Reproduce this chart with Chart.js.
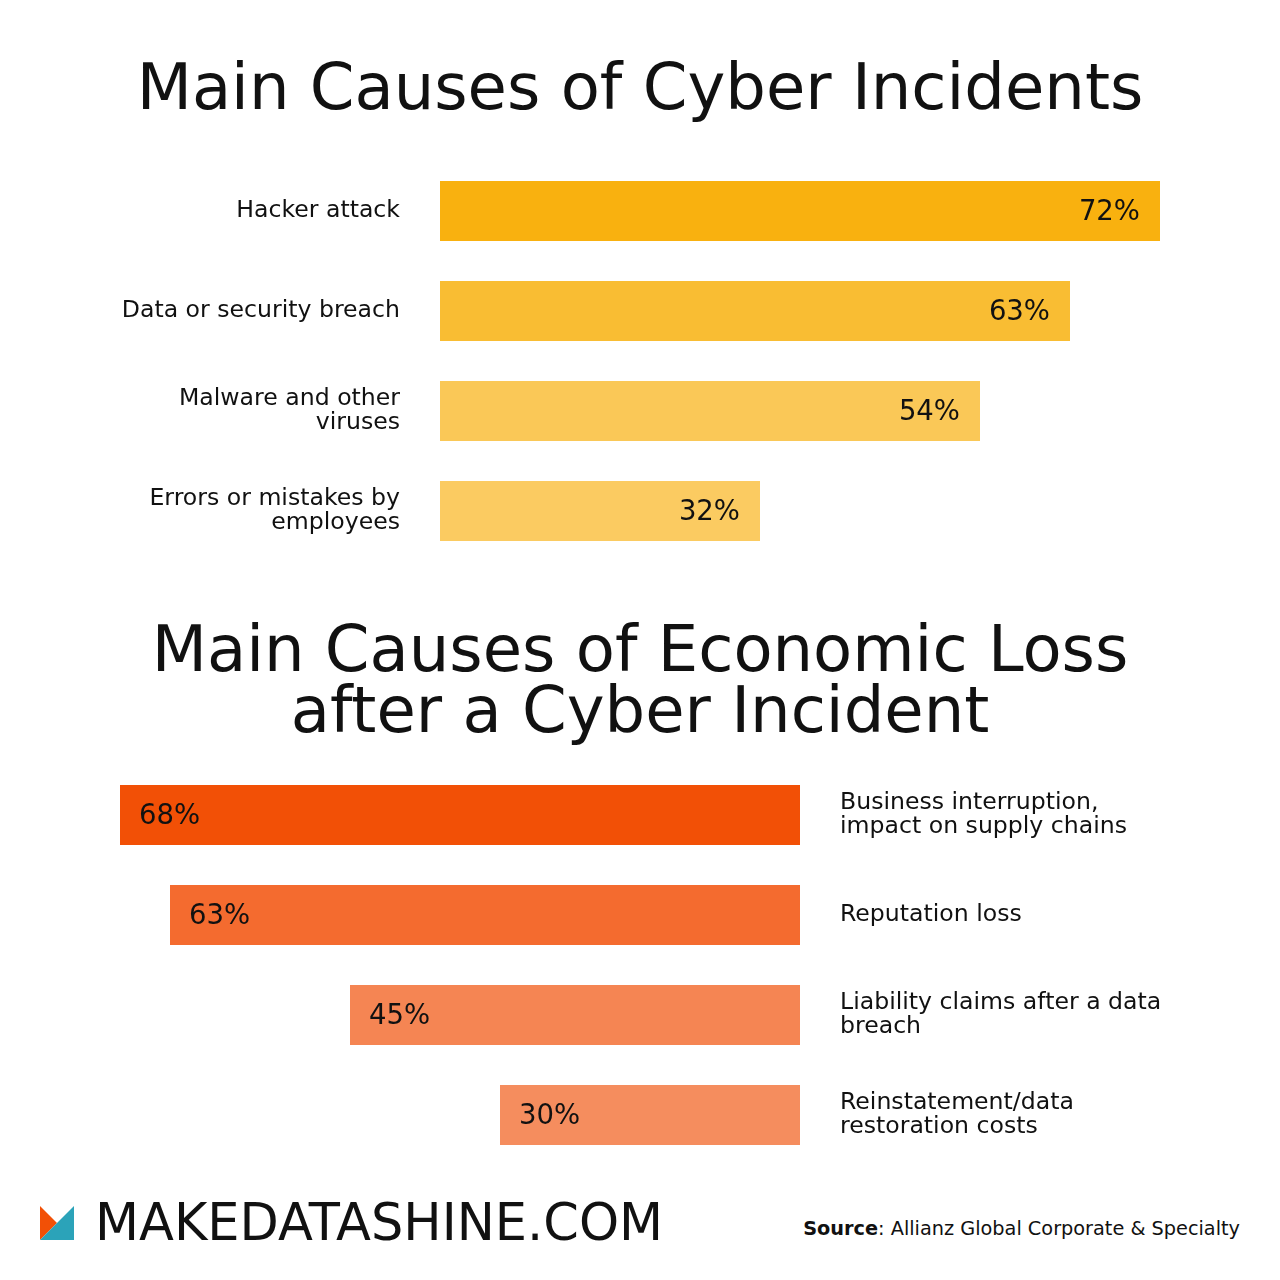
<!DOCTYPE html>
<html>
<head>
<meta charset="utf-8">
<script src="https://cdn.jsdelivr.net/npm/chart.js@4.4.0/dist/chart.umd.min.js"></script>
<style>
  html, body { margin:0; padding:0; background:#fff; }
  body { width:1280px; height:1280px; position:relative; overflow:hidden; font-family:"DejaVu Sans", sans-serif; color:#111; }
  .title { position:absolute; left:0; width:1280px; text-align:center; font-size:64px; font-weight:400; white-space:nowrap; }
  #t1 { top:55px; line-height:64px; }
  #t2 { top:619px; line-height:61px; }
  #c1wrap { position:absolute; left:0; top:150px; width:1280px; height:420px; }
  #c2wrap { position:absolute; left:0; top:755px; width:1280px; height:420px; }
  #logo { position:absolute; left:40px; top:1206px; }
  #brand { position:absolute; left:95px; top:1195px; font-size:51px; line-height:56px; white-space:nowrap; }
  #source { position:absolute; right:40px; top:1216px; font-size:19.3px; line-height:26px; white-space:nowrap; }
</style>
</head>
<body>
<div class="title" id="t1">Main Causes of Cyber Incidents</div>
<div class="title" id="t2">Main Causes of Economic Loss<br>after a Cyber Incident</div>
<div id="c1wrap"><canvas id="c1"></canvas></div>
<div id="c2wrap"><canvas id="c2"></canvas></div>
<svg id="logo" width="34" height="34" viewBox="0 0 34 34">
  <polygon points="0,0 17,17 0,34" fill="#F25006"/>
  <polygon points="34,0 34,34 0,34" fill="#2BA3B9"/>
</svg>
<div id="brand">MAKEDATASHINE.COM</div>
<div id="source"><b>Source</b>: Allianz Global Corporate &amp; Specialty</div>
<script>
const incidentCategories = [
  "Hacker attack",
  "Data or security breach",
  ["Malware and other", "viruses"],
  ["Errors or mistakes by", "employees"]
];
const incidentValues = [72, 63, 54, 32];
const incidentColors = ["#F9B10F", "#F9BD33", "#FAC857", "#FBCB61"];

const lossCategories = [
  ["Business interruption,", "impact on supply chains"],
  "Reputation loss",
  ["Liability claims after a data", "breach"],
  ["Reinstatement/data", "restoration costs"]
];
const lossValues = [68, 63, 45, 30];
const lossColors = ["#F25006", "#F46B2F", "#F58553", "#F58D5E"];

const FONT = "'DejaVu Sans', sans-serif";

function valueLabels(side) {
  return {
    id: 'valueLabels' + side,
    afterDatasetsDraw(chart) {
      const ctx = chart.ctx;
      const meta = chart.getDatasetMeta(0);
      const data = chart.data.datasets[0].data;
      ctx.save();
      ctx.font = "27.5px " + FONT;
      ctx.fillStyle = "#111";
      ctx.textBaseline = "middle";
      meta.data.forEach((bar, i) => {
        const txt = data[i] + "%";
        if (side === 'end') {
          ctx.textAlign = "right";
          ctx.fillText(txt, bar.x - 20, bar.y + 2);
        } else {
          ctx.textAlign = "left";
          ctx.fillText(txt, bar.x + 19, bar.y + 2);
        }
      });
      ctx.restore();
    }
  };
}

function makeChart(id, labels, values, colors, opts) {
  return new Chart(document.getElementById(id), {
    type: 'bar',
    data: {
      labels: labels,
      datasets: [{
        data: values,
        backgroundColor: colors,
        borderWidth: 0,
        categoryPercentage: 1.0,
        barPercentage: 0.6
      }]
    },
    options: {
      indexAxis: 'y',
      responsive: true,
      maintainAspectRatio: false,
      animation: false,
      layout: { padding: opts.padding },
      plugins: { legend: { display: false }, tooltip: { enabled: false }, title: { display: false } },
      scales: {
        x: {
          display: false,
          min: 0,
          max: opts.max,
          reverse: opts.reverse
        },
        y: {
          position: opts.yPos,
          grid: { display: false, drawTicks: false },
          border: { display: false },
          afterFit(scale) {
            scale.width = opts.yWidth;
            scale.paddingTop = 0;
            scale.paddingBottom = 0;
          },
          ticks: {
            padding: 40,
            color: "#111",
            font: { family: FONT, size: 23.6, lineHeight: 1.02 }
          }
        }
      }
    },
    plugins: [valueLabels(opts.labelSide)]
  });
}

makeChart('c1', incidentCategories, incidentValues, incidentColors, {
  padding: { top: 11, bottom: 9, left: 0, right: 120 },
  max: 72, reverse: false, yPos: 'left', yWidth: 440, labelSide: 'end'
});

makeChart('c2', lossCategories, lossValues, lossColors, {
  padding: { top: 10, bottom: 10, left: 120, right: 0 },
  max: 68, reverse: true, yPos: 'right', yWidth: 480, labelSide: 'start'
});
</script>
</body>
</html>
